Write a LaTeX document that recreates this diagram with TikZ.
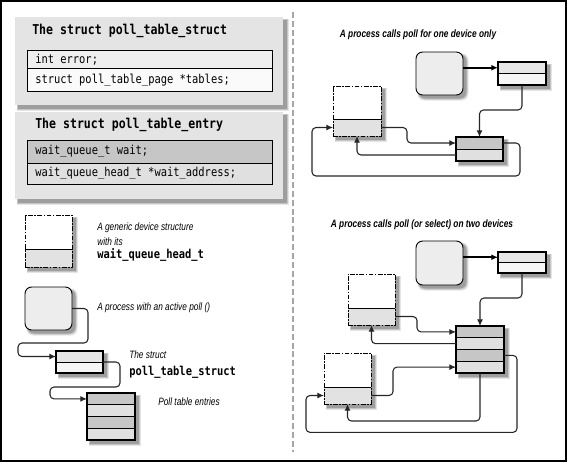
\documentclass[tikz,border=0pt]{standalone}
\usepackage{fontspec}
\setmonofont[FakeStretch=0.85]{DejaVu Sans Mono}
\newfontfamily\condf[FakeStretch=0.78]{Liberation Sans}
\usetikzlibrary{arrows.meta,fit,calc}
\definecolor{panel}{HTML}{E4E4E4}
\definecolor{rowA}{HTML}{EFEFEF}
\definecolor{rowB}{HTML}{FAFAFA}
\definecolor{dk}{HTML}{C6C6C6}
\definecolor{lt}{HTML}{E0E0E0}
\definecolor{procf}{HTML}{EDEDED}
\definecolor{ptA}{HTML}{E6E6E6}
\definecolor{ptB}{HTML}{F6F6F6}
\definecolor{devg}{HTML}{E2E2E2}
\newcommand\mkbox[6]{%
  \path (#2,#3) coordinate (#1-a) (#4,#5) coordinate (#1-b);
  \node[fit=(#1-a)(#1-b), inner sep=0pt, outer sep=0pt, #6] (#1) {};}
\newcommand\shad[5][0pt]{%
  \fill[black,opacity=0.10,rounded corners=#1] (#2+1.5,#3+1.5) rectangle (#4+5.5,#5+5.5);
  \fill[black,opacity=0.14,rounded corners=#1] (#2+2,#3+2) rectangle (#4+4.5,#5+4.5);
  \fill[black,opacity=0.20,rounded corners=#1] (#2+2.5,#3+2.5) rectangle (#4+3.5,#5+3.5);}
\newcommand\mkdev[6]{%
  \shad{#2}{#3}{#4}{#5}
  \mkbox{#1T}{#2}{#3}{#4}{#6}{fill=white}
  \mkbox{#1B}{#2}{#6}{#4}{#5}{fill=devg}
  \mkbox{#1}{#2}{#3}{#4}{#5}{draw=black, line width=0.7pt, dash pattern=on 3.6pt off 1.1pt on 1.1pt off 1.1pt}
  \draw[line width=0.7pt] (#1B.north west) -- (#1B.north east);}
\newcommand\mkproc[5]{%
  \shad[5pt]{#2}{#3}{#4}{#5}
  \mkbox{#1}{#2}{#3}{#4}{#5}{fill=procf, draw=black, line width=0.7pt, rounded corners=5pt}}
\begin{document}
\begin{tikzpicture}[x=0.75pt,y=-0.75pt,
  conn/.style={draw=black!85, line width=0.8pt, rounded corners=3pt, -{Latex[length=5pt,width=4.5pt]}},
  thickconn/.style={draw=black, line width=1.5pt, -{Latex[length=5pt,width=4.5pt]}},
  rowthin/.style={draw=black, line width=0.6pt},
  tframe/.style={draw=black, line width=#1},
  mono/.style={font=\fontsize{9.2}{10}\selectfont\ttfamily, inner sep=0pt, anchor=west},
  monob/.style={font=\fontsize{10.2}{11}\selectfont\ttfamily\bfseries, inner sep=0pt, anchor=west},
  monoleg/.style={font=\fontsize{9.2}{10}\selectfont\ttfamily\bfseries, inner sep=0pt, anchor=west},
  legend/.style={font=\fontsize{8}{9.5}\selectfont\condf\itshape, inner sep=0pt, anchor=west},
  ttl/.style={font=\fontsize{8}{9.5}\selectfont\condf\bfseries\itshape, inner sep=0pt}]
\useasboundingbox (0,0) rectangle (567,462);
\draw[line width=1.1pt] (1,1) rectangle (566,461);
\draw[gray!70, line width=1.1pt, dash pattern=on 4.5pt off 2.2pt] (293,12) -- (293,452);

% ---- panel 1
\shad{15}{17}{283}{105}
\mkbox{pan1}{15}{17}{283}{105}{fill=panel}
\node[monob] (pan1t) at (32,31) {The struct poll\_table\_struct};
\mkbox{r11}{27}{50}{272}{68}{fill=rowA, rowthin}
\mkbox{r12}{27}{68}{272}{91}{fill=rowB, rowthin}
\node[mono] (r11t) at (35,59.5) {int error;};
\node[mono] (r12t) at (35,80) {struct poll\_table\_page *tables;};

% ---- panel 2
\shad{15}{112}{283}{199}
\mkbox{pan2}{15}{112}{283}{199}{fill=panel}
\node[monob] (pan2t) at (35,125) {The struct poll\_table\_entry};
\mkbox{r21}{27}{140}{272}{163}{fill=dk, rowthin}
\mkbox{r22}{27}{163}{272}{184}{fill=lt, rowthin}
\node[mono] (r21t) at (35,151.5) {wait\_queue\_t wait;};
\node[mono] (r22t) at (35,173.5) {wait\_queue\_head\_t *wait\_address;};

% ---- legend
\mkdev{dL}{25}{215}{72}{267}{249}
\node[legend] (lg1) at (97,228) {A generic device structure};
\node[legend] (lg2) at (97,242) {with its};
\node[monoleg] (lg3) at (97,255) {wait\_queue\_head\_t};

\mkproc{procL}{25}{287}{72}{330}
\node[legend] (lg4) at (97,308) {A process with an active poll ()};

\shad{56}{351}{103}{373}
\mkbox{ptL1}{56}{351}{103}{362}{fill=ptA, rowthin}
\mkbox{ptL2}{56}{362}{103}{373}{fill=ptB, rowthin}
\mkbox{ptL}{56}{351}{103}{373}{tframe=1.4pt}
\node[legend] (lg5) at (129,355) {The struct};
\node[monoleg] (lg6) at (129,372) {poll\_table\_struct};

\shad{87}{393}{135}{440}
\mkbox{eL1}{87}{393}{135}{404.75}{fill=dk, rowthin}
\mkbox{eL2}{87}{404.75}{135}{416.5}{fill=lt, rowthin}
\mkbox{eL3}{87}{416.5}{135}{428.25}{fill=dk, rowthin}
\mkbox{eL4}{87}{428.25}{135}{440}{fill=lt, rowthin}
\mkbox{eL}{87}{393}{135}{440}{tframe=2.2pt}
\node[legend] (lg7) at (158,402) {Poll table entries};

\draw[conn] (procL.east) -| (88,343) -| ($(ptL1.west)+(-38,0)$) -- (ptL1.west);
\draw[conn] (ptL.east) -| (120,387) -| ($(eL1.west)+(-37,0)$) -- (eL1.west);

% ---- right top
\node[ttl] (ttlA) at (418,35) {A process calls poll for one device only};
\mkproc{procA}{416}{52}{463}{95}
\shad{498}{62}{546}{85}
\mkbox{tA1}{498}{62}{546}{73.5}{fill=ptA, rowthin}
\mkbox{tA2}{498}{73.5}{546}{85}{fill=ptB, rowthin}
\mkbox{tA}{498}{62}{546}{85}{tframe=1.4pt}
\shad{456}{137}{503}{161}
\mkbox{eA1}{456}{137}{503}{149}{fill=dk, rowthin}
\mkbox{eA2}{456}{149}{503}{161}{fill=lt, rowthin}
\mkbox{eA}{456}{137}{503}{161}{tframe=1.2pt}
\mkdev{dA}{333}{86}{381}{136}{119}

\draw[thickconn] (procA.east |- tA1.west) -- (tA1.west);
\draw[conn] (tA.south) -- ++(0,25) -| (eA.north);
\draw[conn] (dAB.east) -- ++(26,0) |- (eA1.west);
\draw[conn] (eA2.west) -| (dA.south);
\draw[conn] (eA1.east) -- ++(17,0) |- ++(-208,33) |- (dAB.west);

% ---- right bottom
\node[ttl] (ttlB) at (422,225) {A process calls poll (or select) on two devices};
\mkproc{procB}{416}{241}{463}{285}
\shad{498}{252}{546}{273}
\mkbox{tB1}{498}{252}{546}{262.5}{fill=ptA, rowthin}
\mkbox{tB2}{498}{262.5}{546}{273}{fill=ptB, rowthin}
\mkbox{tB}{498}{252}{546}{273}{tframe=1.4pt}
\shad{456}{326}{504}{373}
\mkbox{eB1}{456}{326}{504}{337.75}{fill=dk, rowthin}
\mkbox{eB2}{456}{337.75}{504}{349.5}{fill=lt, rowthin}
\mkbox{eB3}{456}{349.5}{504}{361.25}{fill=dk, rowthin}
\mkbox{eB4}{456}{361.25}{504}{373}{fill=lt, rowthin}
\mkbox{eB}{456}{326}{504}{373}{tframe=2.2pt}
\mkdev{dB1}{348}{274}{395}{325}{308}
\mkdev{dB2}{324}{353}{371}{404}{387}

\draw[thickconn] (procB.east |- tB1.west) -- (tB1.west);
\draw[conn] (tB.south) -- ++(0,25) -| (eB.north);
\draw[conn] (dB1B.east) -- ++(22,0) |- (eB1.west);
\draw[conn] (eB2.west) -| (dB1.south);
\draw[conn] (dB2B.east) -- ++(22,0) |- (eB4.west);
\draw[conn] (eB.south) -- ++(0,48) -| (dB2.south);
\draw[conn] (eB3.east) -- ++(13,0) |- ++(-211,77) |- (dB2B.west);
\end{tikzpicture}
\end{document}
